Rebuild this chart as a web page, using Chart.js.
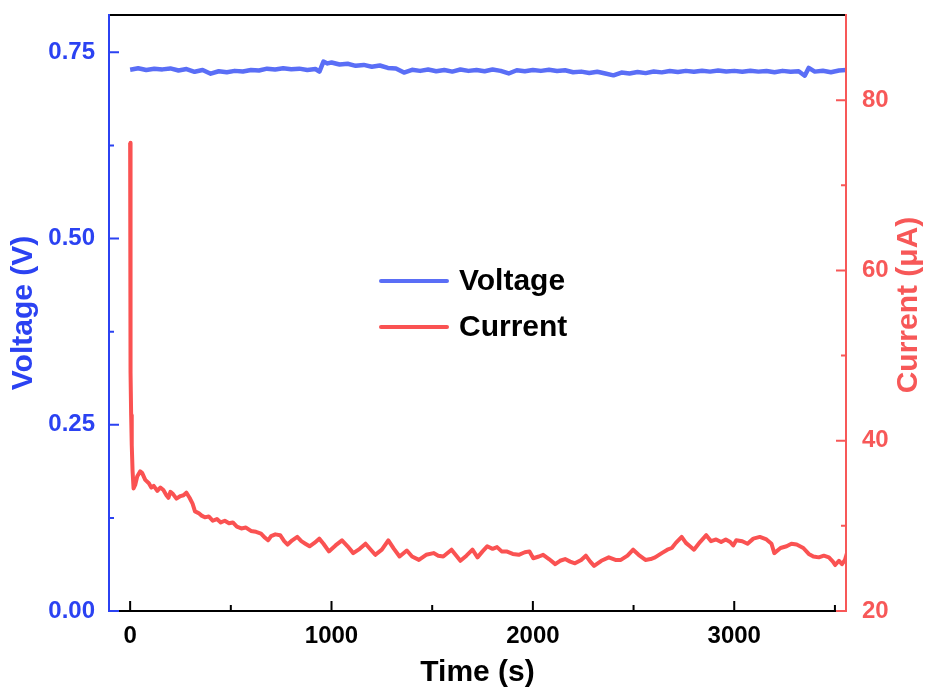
<!DOCTYPE html>
<html>
<head>
<meta charset="utf-8">
<script src="https://cdn.jsdelivr.net/npm/chart.js@4.4.1/dist/chart.umd.min.js"></script>
<style>
  html, body { margin: 0; padding: 0; background: #ffffff; }
  #wrap { width: 928px; height: 691px; }
</style>
</head>
<body>
<div id="wrap"><canvas id="c" width="928" height="691"></canvas></div>
<script>
// ---- data ----
const seriesNames = ["Voltage", "Current"];
const axisTitles = { time: "Time (s)", voltage: "Voltage (V)", current: "Current (\u03BCA)" };

const voltageTime = [0,40,80,120,160,200,240,280,320,360,400,440,480,520,560,600,640,680,720,760,800,840,880,920,940,960,980,1000,1040,1080,1120,1160,1200,1240,1280,1320,1360,1400,1440,1480,1520,1560,1600,1640,1680,1720,1760,1800,1840,1880,1920,1960,2000,2040,2080,2120,2160,2200,2240,2280,2320,2360,2400,2440,2480,2520,2560,2600,2640,2680,2720,2760,2800,2840,2880,2920,2960,3000,3040,3080,3120,3160,3200,3240,3280,3320,3350,3370,3400,3440,3480,3520,3560];
const voltageValues = [0.7265,0.7285,0.7262,0.7278,0.7270,0.7283,0.7255,0.7275,0.7238,0.7262,0.7212,0.7245,0.7232,0.7250,0.7242,0.7262,0.7255,0.7280,0.7268,0.7285,0.7272,0.7280,0.7262,0.7275,0.7240,0.7375,0.7350,0.7362,0.7335,0.7345,0.7318,0.7330,0.7305,0.7322,0.7290,0.7282,0.7228,0.7265,0.7250,0.7268,0.7245,0.7262,0.7240,0.7268,0.7250,0.7262,0.7245,0.7268,0.7250,0.7215,0.7258,0.7245,0.7262,0.7250,0.7265,0.7248,0.7258,0.7232,0.7240,0.7222,0.7238,0.7215,0.7190,0.7228,0.7215,0.7235,0.7220,0.7242,0.7230,0.7248,0.7235,0.7250,0.7238,0.7252,0.7240,0.7255,0.7242,0.7250,0.7238,0.7252,0.7240,0.7248,0.7232,0.7250,0.7238,0.7245,0.7185,0.7290,0.7240,0.7252,0.7232,0.7255,0.7262];

const currentTime = [0,1,2,3,5,8,12,17,25,35,50,60,75,93,105,117,135,150,165,180,190,200,214,230,250,265,279,295,310,322,340,355,371,390,410,431,450,470,491,510,530,552,575,600,625,650,670,685,700,721,745,765,782,805,830,850,870,891,915,939,960,987,1020,1052,1080,1108,1140,1169,1195,1217,1250,1282,1310,1338,1374,1400,1434,1470,1507,1530,1555,1596,1620,1640,1670,1700,1725,1750,1773,1800,1822,1845,1869,1900,1930,1960,1983,2002,2030,2051,2080,2111,2135,2160,2185,2209,2240,2263,2285,2304,2340,2377,2410,2437,2470,2498,2525,2559,2585,2607,2640,2668,2690,2710,2739,2760,2780,2800,2830,2861,2885,2910,2935,2958,2980,2995,3010,3040,3066,3095,3127,3160,3185,3199,3230,3260,3284,3310,3343,3370,3393,3420,3445,3470,3490,3501,3520,3535,3550,3560];
const currentValues = [75.0,66.0,56.0,48.0,43.0,39.5,36.5,34.4,34.8,35.8,36.4,36.2,35.4,35.0,34.5,34.7,34.1,34.5,34.2,33.6,33.3,34.0,33.7,33.2,33.5,33.6,33.9,33.3,32.6,31.7,31.5,31.2,31.0,31.1,30.6,30.8,30.4,30.6,30.3,30.4,29.9,29.7,29.8,29.4,29.3,29.1,28.6,28.3,28.8,29.0,28.9,28.2,27.8,28.3,28.7,28.2,27.9,27.6,28.0,28.5,27.9,27.0,27.7,28.3,27.6,26.8,27.3,27.9,27.2,26.6,27.2,28.3,27.3,26.4,27.1,26.4,26.0,26.6,26.8,26.5,26.4,27.2,26.5,25.9,26.5,27.2,26.3,27.0,27.6,27.3,27.5,27.0,27.0,26.7,26.6,26.9,27.0,26.2,26.4,26.6,26.1,25.5,25.9,26.1,25.8,25.6,26.0,26.5,25.8,25.3,25.9,26.3,26.0,26.0,26.5,27.2,26.6,26.0,26.1,26.3,26.8,27.2,27.4,28.0,28.7,28.0,27.6,27.2,28.1,28.9,28.2,28.4,28.1,28.4,28.1,27.7,28.3,28.2,27.9,28.5,28.7,28.4,27.9,26.8,27.4,27.6,27.9,27.8,27.4,26.7,26.4,26.3,26.5,26.3,25.8,25.4,25.9,25.5,26.0,26.8];

const timeMajorTicks = [0, 1000, 2000, 3000];
const timeMinorTicks = [500, 1500, 2500, 3500];
const voltageMajorTicks = [0, 0.25, 0.5, 0.75];
const voltageMinorTicks = [0.125, 0.375, 0.625];
const currentMajorTicks = [20, 40, 60, 80];
const currentMinorTicks = [30, 50, 70];

// ---- styling ----
const FONT = "'Liberation Sans', Arial, Helvetica, sans-serif";
const BLUE_AXIS = '#2b42f2';
const BLUE_LINE = '#5a6ef6';
const RED_AXIS = '#f75858';
const RED_LINE = '#fa5252';

function pts(xs, ys) { return xs.map((x, i) => ({ x: x, y: ys[i] })); }
function noPad(s) { s.paddingTop = 0; s.paddingBottom = 0; s.paddingLeft = 0; s.paddingRight = 0; }

const framePlugin = {
  id: 'frame',
  afterDraw(chart) {
    const ctx = chart.ctx;
    const a = chart.chartArea;
    const sx = chart.scales.x, sv = chart.scales.yV, si = chart.scales.yI;
    ctx.save();
    ctx.lineWidth = 2;
    ctx.lineCap = 'butt';
    // top & bottom (black)
    ctx.strokeStyle = '#000';
    ctx.beginPath();
    ctx.moveTo(a.left, a.top); ctx.lineTo(a.right, a.top);
    ctx.moveTo(a.left, a.bottom); ctx.lineTo(a.right, a.bottom);
    ctx.stroke();
    // x ticks (inward)
    ctx.beginPath();
    timeMajorTicks.forEach(v => { const p = sx.getPixelForValue(v); ctx.moveTo(p, a.bottom); ctx.lineTo(p, a.bottom - 10); });
    timeMinorTicks.forEach(v => { const p = sx.getPixelForValue(v); ctx.moveTo(p, a.bottom); ctx.lineTo(p, a.bottom - 6); });
    ctx.stroke();
    // left axis (blue)
    ctx.strokeStyle = BLUE_AXIS;
    ctx.beginPath();
    ctx.moveTo(a.left, a.top - 1); ctx.lineTo(a.left, a.bottom + 1);
    voltageMajorTicks.forEach(v => { const p = sv.getPixelForValue(v); ctx.moveTo(a.left, p); ctx.lineTo(a.left + 10, p); });
    voltageMinorTicks.forEach(v => { const p = sv.getPixelForValue(v); ctx.moveTo(a.left, p); ctx.lineTo(a.left + 5, p); });
    ctx.stroke();
    // right axis (red)
    ctx.strokeStyle = RED_AXIS;
    ctx.beginPath();
    ctx.moveTo(a.right, a.top - 1); ctx.lineTo(a.right, a.bottom + 1);
    currentMajorTicks.forEach(v => { const p = si.getPixelForValue(v); ctx.moveTo(a.right, p); ctx.lineTo(a.right - 10, p); });
    currentMinorTicks.forEach(v => { const p = si.getPixelForValue(v); ctx.moveTo(a.right, p); ctx.lineTo(a.right - 5, p); });
    ctx.stroke();

    // right axis title, reading bottom-to-top like the left one
    ctx.save();
    ctx.translate(917, (a.top + a.bottom) / 2 - 8);
    ctx.rotate(-Math.PI / 2);
    ctx.font = 'bold 30px ' + FONT;
    ctx.fillStyle = RED_AXIS;
    ctx.textAlign = 'center';
    ctx.textBaseline = 'alphabetic';
    ctx.fillText(axisTitles.current, 0, 0);
    ctx.restore();

    // legend
    const colors = [BLUE_LINE, RED_LINE];
    const rows = [281, 327];
    ctx.lineWidth = 4;
    ctx.lineCap = 'round';
    ctx.font = 'bold 30px ' + FONT;
    ctx.textBaseline = 'middle';
    ctx.textAlign = 'left';
    seriesNames.forEach((name, i) => {
      ctx.strokeStyle = colors[i];
      ctx.beginPath(); ctx.moveTo(381, rows[i]); ctx.lineTo(447, rows[i]); ctx.stroke();
      ctx.fillStyle = '#000';
      ctx.fillText(name, 459, rows[i] + 1);
    });
    ctx.restore();
  }
};

new Chart(document.getElementById('c'), {
  type: 'line',
  data: {
    datasets: [
      { label: seriesNames[0], data: pts(voltageTime, voltageValues), yAxisID: 'yV',
        borderColor: BLUE_LINE, borderWidth: 4.5, pointRadius: 0, tension: 0, fill: false, borderJoinStyle: 'round' },
      { label: seriesNames[1], data: pts(currentTime, currentValues), yAxisID: 'yI',
        borderColor: RED_LINE, borderWidth: 4, pointRadius: 0, tension: 0, fill: false, borderJoinStyle: 'round' }
    ]
  },
  options: {
    responsive: false,
    animation: false,
    events: [],
    layout: { padding: { top: 15, left: 0, right: 0, bottom: 0 } },
    plugins: { legend: { display: false }, tooltip: { enabled: false } },
    scales: {
      x: {
        type: 'linear', position: 'bottom', min: -105, max: 3555,
        afterBuildTicks: s => { s.ticks = timeMajorTicks.map(v => ({ value: v })); },
        afterFit: s => { s.height = 80; noPad(s); },
        grid: { display: false, drawTicks: false },
        border: { display: false },
        ticks: { color: '#000', font: { family: FONT, size: 24, weight: 'bold' }, padding: 11, maxRotation: 0, autoSkip: false, callback: v => String(v) },
        title: { display: true, text: axisTitles.time, color: '#000', font: { family: FONT, size: 30, weight: 'bold' }, padding: { top: 0, bottom: 0 } }
      },
      yV: {
        type: 'linear', position: 'left', min: 0, max: 0.8,
        afterBuildTicks: s => { s.ticks = voltageMajorTicks.map(v => ({ value: v })); },
        afterFit: s => { s.width = 109; noPad(s); },
        grid: { display: false, drawTicks: false },
        border: { display: false },
        ticks: { color: BLUE_AXIS, font: { family: FONT, size: 24, weight: 'bold' }, padding: 14, callback: v => v.toFixed(2) },
        title: { display: true, text: axisTitles.voltage, color: BLUE_AXIS, font: { family: FONT, size: 30, weight: 'bold' }, padding: { top: 6, bottom: 0 } }
      },
      yI: {
        type: 'linear', position: 'right', min: 20, max: 90,
        afterBuildTicks: s => { s.ticks = currentMajorTicks.map(v => ({ value: v })); },
        afterFit: s => { s.width = 82; noPad(s); },
        grid: { display: false, drawTicks: false },
        border: { display: false },
        ticks: { color: RED_AXIS, font: { family: FONT, size: 24, weight: 'bold' }, padding: 16, callback: v => String(v) },
        title: { display: false }
      }
    }
  },
  plugins: [framePlugin]
});
</script>
</body>
</html>
